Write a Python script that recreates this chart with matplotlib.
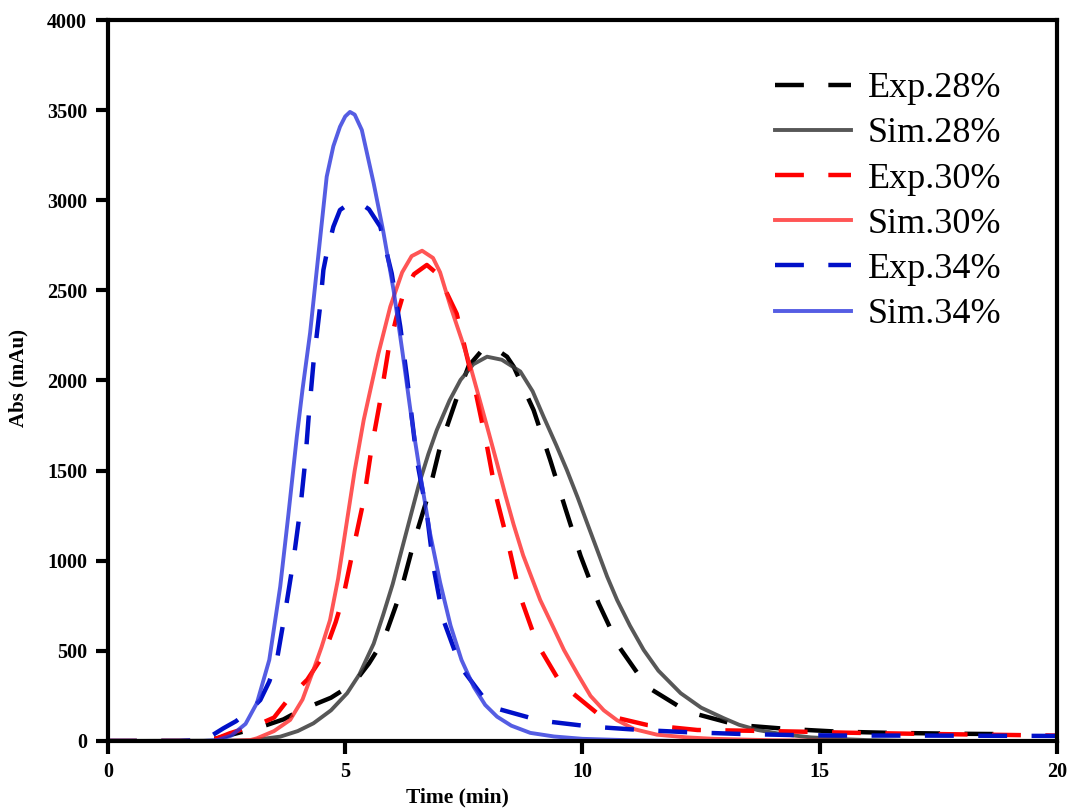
import matplotlib
matplotlib.use('Agg')
import matplotlib.pyplot as plt

plt.rcParams['font.family'] = ['Liberation Serif', 'DejaVu Serif']

# --- data (time in min, absorbance in mAu) ---
exp28_t = [0, 2.0, 2.3, 2.57, 2.9, 3.35, 3.7, 4.05, 4.33, 4.7, 5.18, 5.5, 5.81, 6.0, 6.16, 6.46,
           6.76, 7.0, 7.36, 7.6, 7.92, 8.2, 8.41, 8.55, 8.97, 9.32, 9.64, 9.96, 10.34, 10.77,
           11.36, 12.21, 13.26, 14.31, 15.37, 16.5, 18.0, 19.0]
exp28_a = [0, 0, 15, 33, 55, 89, 120, 170, 200, 240, 320, 430, 560, 700, 819, 1115,
           1374, 1633, 1910, 2080, 2179, 2170, 2132, 2077, 1836, 1559, 1290, 1027, 764, 523,
           301, 163, 89, 67, 52, 45, 40, 38]

sim28_t = [0, 3.0, 3.63, 4.0, 4.33, 4.7, 5.04, 5.3, 5.6, 5.8, 6.0, 6.27, 6.55, 6.75, 6.93, 7.2,
           7.43, 7.7, 7.99, 8.3, 8.69, 8.95, 9.18, 9.45, 9.67, 9.9, 10.1, 10.52, 10.73, 11.0,
           11.29, 11.6, 12.07, 12.5, 12.98, 13.3, 13.69, 14.2, 14.81, 15.5, 16.0, 17.0, 20.0]
sim28_a = [0, 3, 24, 55, 98, 170, 265, 370, 540, 700, 870, 1140, 1420, 1590, 1725, 1890,
           2003, 2090, 2132, 2115, 2050, 1940, 1799, 1640, 1504, 1350, 1208, 912, 782, 640,
           505, 390, 265, 185, 126, 90, 61, 38, 20, 10, 5, 0, 0]

exp30_t = [0, 2.0, 2.3, 2.57, 2.9, 3.2, 3.5, 3.84, 4.05, 4.2, 4.45, 4.61, 4.8, 4.96, 5.18, 5.39,
           5.56, 5.74, 5.91, 6.08, 6.23, 6.45, 6.72, 6.95, 7.15, 7.35, 7.55, 7.77, 7.99, 8.2,
           8.45, 8.69, 9.04, 9.54, 10.31, 11.36, 12.42, 13.47, 14.56, 15.58, 17.0, 18.5, 20.0]
exp30_a = [0, 0, 15, 43, 70, 95, 130, 245, 301, 340, 440, 523, 660, 801, 1078, 1337,
           1633, 1892, 2169, 2350, 2484, 2590, 2641, 2590, 2480, 2370, 2150, 1910, 1633, 1337,
           1078, 801, 542, 320, 154, 89, 61, 57, 52, 46, 40, 35, 30]

sim30_t = [0, 2.5, 3.0, 3.14, 3.5, 3.84, 4.1, 4.33, 4.5, 4.68, 4.85, 5.04, 5.2, 5.39, 5.7, 5.95,
           6.2, 6.4, 6.62, 6.85, 7.0, 7.22, 7.45, 7.64, 7.99, 8.2, 8.38, 8.55, 8.75, 9.11, 9.35,
           9.61, 9.9, 10.17, 10.45, 10.73, 11.1, 11.57, 12.2, 12.77, 14.0, 16.0, 20.0]
sim30_a = [0, 0, 5, 15, 55, 117, 230, 394, 520, 671, 900, 1226, 1500, 1781, 2150, 2410,
           2600, 2690, 2720, 2680, 2600, 2410, 2230, 2077, 1744, 1540, 1360, 1200, 1030, 782, 650,
           505, 370, 250, 170, 115, 65, 35, 20, 12, 4, 0, 0]

exp34_t = [0, 1.5, 2.0, 2.15, 2.43, 2.7, 3.0, 3.21, 3.4, 3.56, 3.73, 3.91, 4.05, 4.16, 4.23, 4.33,
           4.47, 4.54, 4.61, 4.75, 4.89, 5.1, 5.32, 5.5, 5.74, 5.98, 6.16, 6.3, 6.41, 6.51, 6.72,
           6.86, 7.07, 7.43, 8.06, 9.11, 10.17, 11.22, 12.28, 13.33, 14.4, 15.5, 17.0, 20.0]
exp34_a = [0, 0, 5, 24, 70, 110, 172, 227, 330, 449, 708, 1004, 1280, 1559, 1799, 2095,
           2410, 2613, 2706, 2853, 2946, 2985, 2983, 2950, 2853, 2594, 2299, 2021, 1781, 1559, 1263,
           967, 671, 412, 190, 113, 80, 61, 48, 39, 33, 30, 30, 28]

sim34_t = [0, 1.5, 2.0, 2.3, 2.6, 2.9, 3.14, 3.4, 3.63, 3.8, 3.98, 4.1, 4.26, 4.45, 4.61, 4.75,
           4.89, 5.0, 5.1, 5.2, 5.35, 5.6, 5.8, 6.02, 6.2, 6.4, 6.6, 6.79, 7.0, 7.22, 7.45, 7.71,
           7.95, 8.2, 8.5, 8.9, 9.4, 10.0, 11.0, 12.0, 20.0]
sim34_a = [0, 0, 0, 5, 30, 95, 211, 450, 856, 1250, 1688, 1950, 2264, 2735, 3131, 3300,
           3408, 3465, 3490, 3475, 3390, 3094, 2830, 2500, 2170, 1785, 1450, 1150, 880, 640, 450, 300,
           200, 135, 85, 45, 25, 12, 4, 0, 0]

fig = plt.figure(figsize=(10.71, 8.10), dpi=100)
ax = fig.add_axes([0.1008, 0.0852, 0.8861, 0.8901])

dash = (0, (6.5, 5.5))
ax.plot(exp28_t, exp28_a, color='black', lw=3.2, linestyle=dash, label='Exp.28%')
ax.plot(sim28_t, sim28_a, color='#3a3a3a', lw=2.8, alpha=0.85, label='Sim.28%')
ax.plot(exp30_t, exp30_a, color='#ff0000', lw=3.2, linestyle=dash, label='Exp.30%')
ax.plot(sim30_t, sim30_a, color='#ff2a2a', lw=2.8, alpha=0.8, label='Sim.30%')
ax.plot(exp34_t, exp34_a, color='#0010c8', lw=3.2, linestyle=dash, label='Exp.34%')
ax.plot(sim34_t, sim34_a, color='#2a35dd', lw=2.8, alpha=0.8, label='Sim.34%')

ax.set_xlim(0, 20)
ax.set_ylim(0, 4000)
ax.set_xticks([0, 5, 10, 15, 20])
ax.set_yticks(range(0, 4001, 500))

for s in ax.spines.values():
    s.set_linewidth(3)
ax.tick_params(direction='out', length=9, width=3, labelsize=14.5, pad=6)
for lab in ax.get_xticklabels() + ax.get_yticklabels():
    lab.set_fontweight('bold')

ax.set_xlabel('Time (min)', fontsize=15.5, fontweight='bold')
ax.set_ylabel('Abs (mAu)', fontsize=15, fontweight='bold')
ax.xaxis.set_label_coords(0.368, -0.064)
ax.yaxis.set_label_coords(-0.084, 0.503)

ax.legend(loc='upper right', bbox_to_anchor=(0.964, 0.958), frameon=False, fontsize=26,
          handlelength=2.1, handletextpad=0.45, labelspacing=0.33, borderaxespad=0.2)

fig.savefig('out.png', dpi=100)
